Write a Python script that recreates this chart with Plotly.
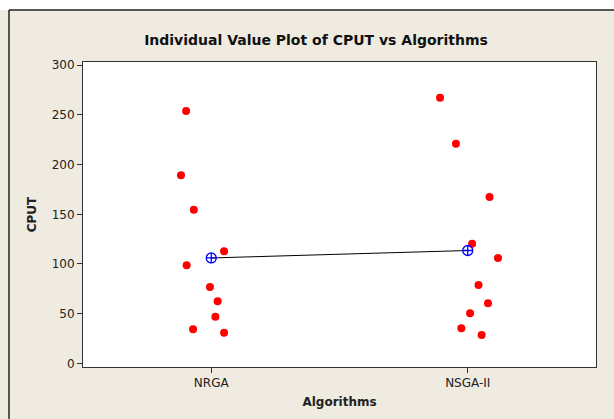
import plotly.graph_objects as go

categories = ["NRGA", "NSGA-II"]
nrga_values = [254, 189.3, 154.7, 112.8, 98.7, 76.8, 62.4, 46.9, 34.2, 30.8]
nsga_values = [267.2, 221.1, 167.5, 120.4, 106.0, 78.9, 60.4, 50.4, 35.2, 28.5]
# horizontal jitter of each dot (category units)
nrga_jitter = [-0.098, -0.118, -0.068, 0.05, -0.096, -0.005, 0.025, 0.016, -0.071, 0.05]
nsga_jitter = [-0.108, -0.046, 0.085, 0.017, 0.118, 0.042, 0.079, 0.009, -0.025, 0.054]
y_ticks = [0, 50, 100, 150, 200, 250, 300]

groups = [nrga_values, nsga_values]
jitters = [nrga_jitter, nsga_jitter]
means = [sum(g) / len(g) for g in groups]
pos = list(range(1, len(categories) + 1))

fig = go.Figure()
for i, (vals, jit) in enumerate(zip(groups, jitters)):
    fig.add_trace(go.Scatter(
        x=[pos[i] + j for j in jit], y=vals, mode="markers",
        marker=dict(color="#ff0000", size=8, line=dict(width=0)),
        showlegend=False, hoverinfo="y"))

fig.add_trace(go.Scatter(
    x=pos, y=means, mode="lines+markers",
    line=dict(color="black", width=1),
    marker=dict(symbol="circle-cross-open", color="#0000ff", size=10,
                line=dict(width=1.3, color="#0000ff")),
    showlegend=False))

bg = "#efebe1"
W, H = 614, 419
L, R, T, B = 83, 18, 62, 52
pw, ph = W - L - R, H - T - B
def px(x):
    return (x - L) / pw
def py(y):
    return 1 - (y - T) / ph

fig.add_shape(type="rect", xref="paper", yref="paper",
              x0=px(-5), x1=px(W + 5), y0=py(10), y1=py(-5),
              fillcolor="white", line=dict(width=0), layer="below")
fig.add_shape(type="line", xref="paper", yref="paper",
              x0=px(9), x1=px(W + 5), y0=py(10), y1=py(10),
              line=dict(color="#222222", width=1.5))
fig.add_shape(type="line", xref="paper", yref="paper",
              x0=px(9), x1=px(9), y0=py(10), y1=py(H + 5),
              line=dict(color="#222222", width=1.5))

font_family = "DejaVu Sans"
fig.update_layout(
    width=W, height=H,
    margin=dict(l=L, r=R, t=T, b=B),
    paper_bgcolor=bg, plot_bgcolor="white",
    font=dict(family=font_family, size=12, color="#222222"),
    title=dict(text="<b>Individual Value Plot of CPUT vs Algorithms</b>",
               x=316 / W, xanchor="center", y=1 - 40 / H, yanchor="middle",
               font=dict(size=14, family=font_family, color="#111111")),
    xaxis=dict(range=[0.5, 2.5], tickvals=pos, ticktext=categories,
               showgrid=False, zeroline=False, showline=True, mirror=True,
               linecolor="#333333", linewidth=1, ticks="outside", ticklen=5,
               tickcolor="#333333",
               title=dict(text="<b>Algorithms</b>", standoff=8,
                          font=dict(size=12)),
               tickfont=dict(size=12)),
    yaxis=dict(range=[-3.7, 303.3], tickvals=y_ticks,
               showgrid=False, zeroline=False, showline=True, mirror=True,
               linecolor="#333333", linewidth=1, ticks="outside", ticklen=5,
               tickcolor="#333333",
               title=dict(text="<b>CPUT</b>", standoff=12,
                          font=dict(size=12)),
               tickfont=dict(size=12)),
)

fig.write_html("out.html", config={"displayModeBar": False},
               post_script="document.body.style.margin='0';document.body.style.overflow='hidden';")
